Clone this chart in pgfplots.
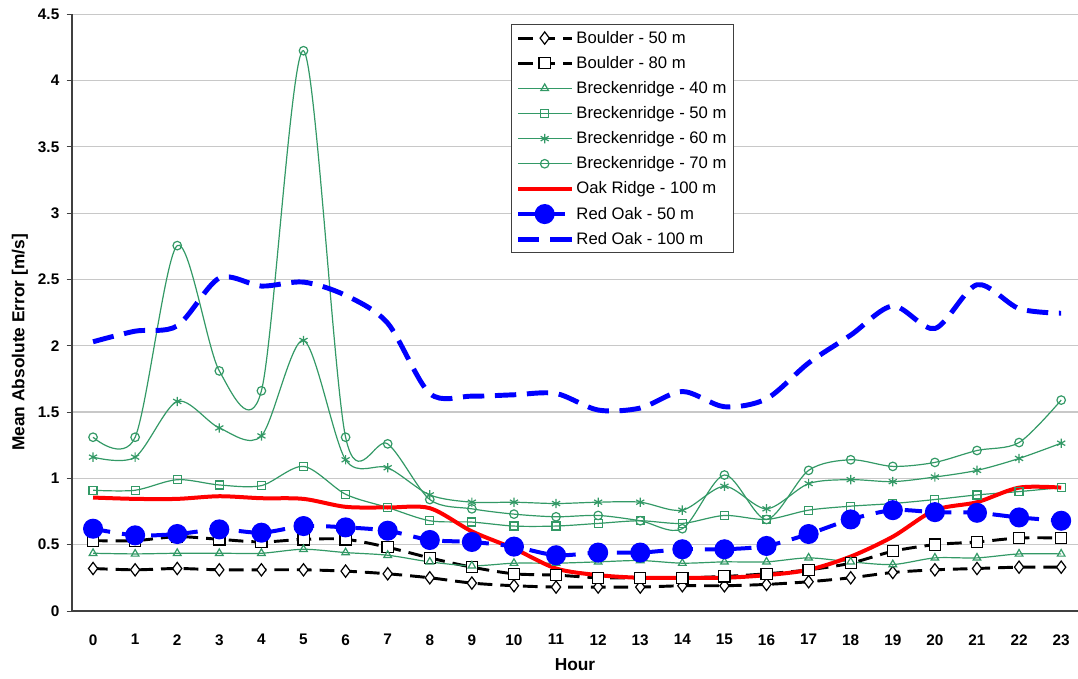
\documentclass[border=0pt]{standalone}
\usepackage{pgfplots}
\pgfplotsset{compat=1.18}
\usepackage{pgfplotstable}
\usepackage{fontspec}
\setmainfont{Liberation Sans}

\definecolor{seagreen}{RGB}{51,153,102}
\definecolor{gridgray}{RGB}{200,200,200}
\definecolor{axgray}{RGB}{64,64,64}

% hourly mean absolute error [m/s]
\pgfplotstableread{
hour bA bB brA brB brC brD oak roA roB
0  0.32 0.53 0.435 0.91  1.16  1.31  0.855 0.62  2.03
1  0.31 0.53 0.43  0.91  1.16  1.31  0.845 0.57  2.11
2  0.32 0.56 0.435 0.99  1.58  2.755 0.845 0.58  2.15
3  0.31 0.54 0.435 0.95  1.38  1.81  0.865 0.615 2.51
4  0.31 0.52 0.435 0.945 1.32  1.66  0.85  0.59  2.45
5  0.31 0.54 0.465 1.09  2.04  4.225 0.845 0.64  2.48
6  0.30 0.54 0.44  0.88  1.14  1.31  0.785 0.63  2.38
7  0.28 0.48 0.42  0.78  1.08  1.26  0.78  0.605 2.17
8  0.25 0.40 0.37  0.68  0.875 0.84  0.775 0.535 1.64
9  0.21 0.33 0.34  0.67  0.82  0.77  0.60  0.52  1.62
10 0.19 0.28 0.36  0.64  0.82  0.73  0.47  0.485 1.63
11 0.18 0.27 0.36  0.64  0.81  0.71  0.32  0.42  1.64
12 0.18 0.25 0.37  0.66  0.82  0.72  0.27  0.44  1.515
13 0.18 0.25 0.38  0.68  0.82  0.68  0.25  0.44  1.53
14 0.19 0.25 0.36  0.66  0.76  0.62  0.25  0.465 1.655
15 0.19 0.26 0.37  0.72  0.94  1.025 0.25  0.465 1.54
16 0.20 0.28 0.37  0.69  0.77  0.69  0.27  0.49  1.60
17 0.22 0.31 0.40  0.76  0.96  1.06  0.31  0.58  1.87
18 0.25 0.36 0.37  0.79  0.99  1.14  0.41  0.69  2.08
19 0.29 0.45 0.35  0.81  0.975 1.09  0.56  0.76  2.30
20 0.31 0.50 0.40  0.84  1.01  1.12  0.76  0.745 2.13
21 0.32 0.52 0.40  0.875 1.06  1.21  0.82  0.74  2.46
22 0.33 0.55 0.43  0.90  1.15  1.27  0.93  0.705 2.28
23 0.33 0.55 0.43  0.93  1.265 1.59  0.93  0.68  2.245
}\maetab

\begin{document}
\begin{tikzpicture}
\begin{axis}[
    name=ax,
    scale only axis,
    width=754.5pt, height=447.5pt,
    xmin=-0.5, xmax=23.4,
    ymin=0, ymax=4.5,
    axis x line*=bottom, axis y line*=left,
    axis line style={axgray, line width=1.1pt},
    xtick={0,1,...,23},
    ytick={0,0.5,1,1.5,2,2.5,3,3.5,4,4.5},
    major x tick style={draw=none},
    y tick style={axgray, line width=0.6pt},
    tick align=outside, major tick length=4pt,
    ymajorgrids, grid style={gridgray, line width=0.9pt},
    /pgf/number format/assume math mode=true,
    tick label style={font=\fontsize{11.5}{13}\selectfont\bfseries},
    xticklabel shift=10pt,
    yticklabel shift=2pt,
    xlabel={Hour},
    ylabel={Mean Absolute Error [m/s]},
    label style={font=\fontsize{13}{15}\selectfont\bfseries},
    xlabel style={at={(axis description cs:0.5,0)}, anchor=center, yshift=-40.5pt},
    ylabel style={at={(axis description cs:-0.0517,0.45)}, anchor=center},
    legend cell align=left,
    legend image code/.code={
        \draw[mark repeat=2, mark phase=2, #1]
            plot coordinates {(0pt,0pt) (20pt,0pt) (40pt,0pt)};
    },
    legend style={at={(0.4364,0.984)}, anchor=north west,
        draw=axgray, line width=0.8pt,
        font=\fontsize{12.5}{14}\selectfont,
        row sep=4.3pt, inner sep=3pt},
    every axis plot/.append style={smooth},
]
\addplot[black, line width=2.2pt, dash pattern=on 11pt off 6pt,
    mark=diamond*, mark size=4.6pt,
    mark options={solid, fill=white, line width=0.9pt}]
    table[x=hour, y=bA] {\maetab};
\addlegendentry{Boulder - 50 m}
\addplot[black, line width=2.2pt, dash pattern=on 11pt off 6pt,
    mark=square*, mark size=4.2pt,
    mark options={solid, fill=white, line width=0.9pt}]
    table[x=hour, y=bB] {\maetab};
\addlegendentry{Boulder - 80 m}
\addplot[seagreen, line width=0.9pt, mark=triangle, mark size=3.3pt,
    mark options={solid}]
    table[x=hour, y=brA] {\maetab};
\addlegendentry{Breckenridge - 40 m}
\addplot[seagreen, line width=0.9pt, mark=square, mark size=3pt,
    mark options={solid}]
    table[x=hour, y=brB] {\maetab};
\addlegendentry{Breckenridge - 50 m}
\addplot[seagreen, line width=0.9pt, mark=asterisk, mark size=3.5pt,
    mark options={solid}]
    table[x=hour, y=brC] {\maetab};
\addlegendentry{Breckenridge - 60 m}
\addplot[seagreen, line width=0.9pt, mark=o, mark size=3.2pt,
    mark options={solid}]
    table[x=hour, y=brD] {\maetab};
\addlegendentry{Breckenridge - 70 m}
\addplot[red, line width=3pt, no markers]
    table[x=hour, y=oak] {\maetab};
\addlegendentry{Oak Ridge - 100 m}
\addplot[blue, line width=3pt, dash pattern=on 13pt off 9pt,
    mark=*, mark size=6pt, mark options={solid}]
    table[x=hour, y=roA] {\maetab};
\addlegendentry{Red Oak - 50 m}
\addplot[blue, line width=3.7pt, dash pattern=on 16pt off 8pt, no markers]
    table[x=hour, y=roB] {\maetab};
\addlegendentry{Red Oak - 100 m}
\node[font=\fontsize{11}{13}\selectfont\bfseries]
    at (axis description cs:-0.0497,0.725) {.};
\end{axis}
\pgfresetboundingbox
\path ([shift={(-54pt,-51pt)}]ax.south west)
    rectangle ([shift={(0pt,10.7pt)}]ax.north east);
\end{tikzpicture}
\end{document}
